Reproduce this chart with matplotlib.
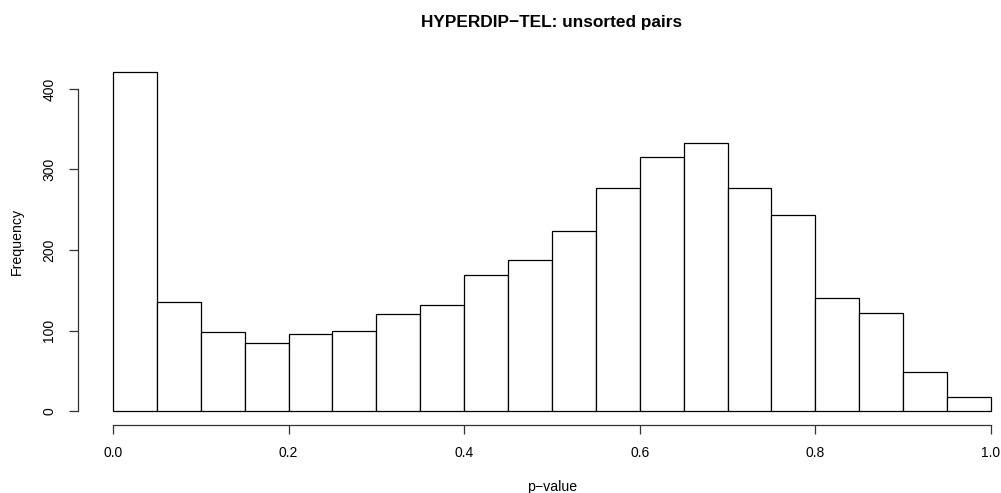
import numpy as np
import matplotlib
matplotlib.use("Agg")
import matplotlib.pyplot as plt

# histogram counts, bins of width 0.05 from 0 to 1
bin_edges = [0.00, 0.05, 0.10, 0.15, 0.20, 0.25, 0.30, 0.35, 0.40, 0.45, 0.50,
             0.55, 0.60, 0.65, 0.70, 0.75, 0.80, 0.85, 0.90, 0.95, 1.00]
counts = [421, 136, 98, 84, 96, 99, 120, 132, 169, 188,
          224, 277, 315, 333, 277, 243, 141, 122, 49, 18]
x_ticks = [0.0, 0.2, 0.4, 0.6, 0.8, 1.0]
y_ticks = [0, 100, 200, 300, 400]

plt.rcParams['font.family'] = ['Liberation Sans', 'DejaVu Sans']

W, H = 1001, 493
fig = plt.figure(figsize=(W / 100, H / 100), dpi=100)

# R-style plot region (usr extends 4% beyond data range)
left, right, top, bottom = 77.9, 1026.0, 58.5, 424.6
ax = fig.add_axes([left / W, 1 - bottom / H, (right - left) / W, (bottom - top) / H])

edges = np.array(bin_edges)
ax.bar(edges[:-1], counts, width=np.diff(edges), align='edge',
       facecolor='white', edgecolor='black', linewidth=0.9)

ymax = max(counts)
ax.set_xlim(-0.04, 1.04)
ax.set_ylim(-0.04 * ymax, 1.04 * ymax)

for s in ['top', 'right']:
    ax.spines[s].set_visible(False)
ax.spines['bottom'].set_bounds(0, 1)
ax.spines['left'].set_bounds(0, 400)
for s in ['bottom', 'left']:
    ax.spines[s].set_linewidth(0.9)
    ax.spines[s].set_color('#333333')

ax.set_xticks(x_ticks)
ax.set_xticklabels(['%.1f' % v for v in x_ticks])
ax.set_yticks(y_ticks)
ax.set_yticklabels([str(v) for v in y_ticks], rotation=90, va='center')
ax.tick_params(axis='both', direction='out', length=6.5, width=0.9,
               color='#333333', labelsize=10, pad=9)

fig.text(552 / W, 1 - 487 / H, 'p\u2212value', ha='center', va='center', fontsize=10.2)
fig.text(17 / W, 1 - 241.5 / H, 'Frequency', ha='center', va='center',
         rotation=90, fontsize=10.2)
fig.text(552 / W, 1 - 22 / H, 'HYPERDIP\u2212TEL: unsorted pairs', ha='center',
         va='center', fontsize=12.4, fontweight='bold')

fig.savefig('out.png', dpi=100)
